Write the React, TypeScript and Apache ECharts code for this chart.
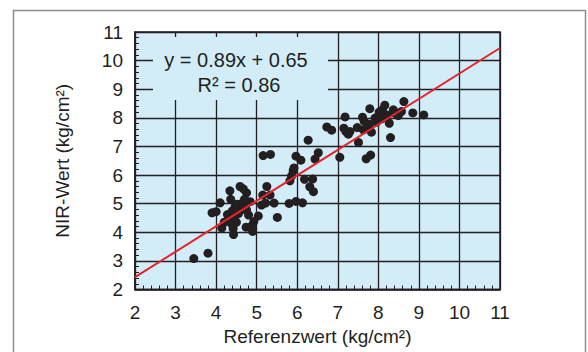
import React, { useEffect, useRef } from "react";
import * as echarts from "echarts";

const xTicks = [2, 11];
const yTicks = [2, 11];
const fitSlope = 0.89;
const fitIntercept = 0.65;
const rSquared = 0.86;

const refX = [
  3.45, 3.8, 3.9, 4.0, 4.1, 4.14, 4.2, 4.28, 4.32, 4.34, 4.36, 4.38, 4.4, 4.42, 4.43, 4.45, 4.47, 4.48, 4.5, 4.52,
  4.55, 4.59, 4.62, 4.65, 4.67, 4.7, 4.72, 4.75, 4.75, 4.74, 4.8, 4.84, 4.88, 4.9, 4.93, 5.04, 5.15, 5.12, 5.16, 5.34,
  5.25, 5.22, 5.33, 5.43, 5.51,
  5.8, 5.82, 5.86, 5.9, 5.92, 5.97, 6.09, 5.97, 6.13, 6.18, 6.38, 6.31, 6.4, 6.44, 6.52, 6.27,
  6.73, 6.85, 7.05, 7.18, 7.15, 7.2, 7.26, 7.3, 7.48, 7.51, 7.61, 7.65, 7.7, 7.81, 7.79, 7.63, 7.73, 7.83, 7.78, 7.92,
  7.96, 8.02, 8.1, 8.16, 8.08, 8.21, 8.27, 8.3, 8.37, 8.41, 8.49, 8.57, 8.63, 8.85, 9.12,
];
const nirY = [
  3.08, 3.27, 4.68, 4.72, 5.03, 4.15, 4.35, 4.62, 4.45, 5.45, 5.15, 4.3, 4.75, 4.12, 3.92, 4.55, 4.9, 4.72, 4.35, 4.98,
  4.65, 5.6, 5.0, 4.8, 5.52, 5.15, 4.95, 5.38, 4.78, 4.18, 4.6, 5.07, 4.22, 4.03, 4.38, 4.57, 5.3, 4.95, 6.68, 6.72,
  5.6, 5.02, 5.3, 5.02, 4.52,
  5.01, 5.8, 5.97, 6.15, 6.25, 6.66, 6.52, 5.08, 5.03, 5.85, 5.86, 5.59, 5.42, 6.56, 6.78, 7.22,
  7.68, 7.57, 6.62, 8.03, 7.64, 7.52, 7.43, 7.52, 7.66, 7.14, 8.02, 7.88, 6.57, 6.7, 8.32, 7.58, 7.64, 7.5, 7.78, 7.99,
  7.85, 8.2, 8.28, 8.44, 7.96, 8.1, 7.81, 7.31, 8.28, 8.16, 8.08, 8.22, 8.57, 8.17, 8.1,
];

const FONT = "'Liberation Sans', Arial, sans-serif";
const INK = "#231f20";
const BG = "#d2ecf8";

export default function App() {
  const ref = useRef<HTMLDivElement>(null);
  useEffect(() => {
    if (!ref.current) return;
    const chart = echarts.init(ref.current, undefined, { renderer: "svg" });
    const points = refX.map((x, i) => [x, nirY[i]]);
    const fit = [xTicks[0], xTicks[1]].map((x) => [x, fitSlope * x + fitIntercept]);
    const axisCommon = {
      type: "value" as const,
      interval: 1,
      axisLine: { show: true, lineStyle: { color: INK, width: 1.5 } },
      axisTick: { show: true, inside: true, length: 4, lineStyle: { color: INK } },
      minorTick: { show: true, splitNumber: 5, length: 4, lineStyle: { color: INK, width: 1 } },
      splitLine: { show: true, lineStyle: { color: INK, width: 1.3 } },
      axisLabel: { color: INK, fontSize: 19, fontFamily: FONT },
      nameLocation: "middle" as const,
      nameTextStyle: { color: INK, fontSize: 19, fontFamily: FONT },
    };
    chart.setOption({
      animation: false,
      backgroundColor: "#ffffff",
      grid: {
        left: 135,
        top: 32,
        width: 365,
        height: 257.5,
        show: true,
        backgroundColor: BG,
        borderColor: INK,
        borderWidth: 1.5,
      },
      xAxis: {
        ...axisCommon,
        min: xTicks[0],
        max: xTicks[1],
        axisLabel: { ...axisCommon.axisLabel, margin: 13 },
        name: "Referenzwert (kg/cm²)",
        nameGap: 37,
      },
      yAxis: {
        ...axisCommon,
        min: yTicks[0],
        max: yTicks[1],
        axisLabel: { ...axisCommon.axisLabel, margin: 12 },
        name: "NIR-Wert (kg/cm²)",
        nameGap: 63,
      },
      graphic: [
        {
          type: "rect",
          shape: { x: 13.5, y: 10.5, width: 572, height: 360 },
          style: { fill: "none", stroke: "#8c8c8c", lineWidth: 1.5 },
          z: 0,
          silent: true,
        },
        {
          type: "rect",
          shape: { x: 153, y: 37, width: 175, height: 63 },
          style: { fill: BG },
          z: 10,
          silent: true,
        },
        {
          type: "text",
          x: 236,
          y: 60,
          style: {
            text: `y = ${fitSlope.toFixed(2)}x + ${fitIntercept.toFixed(2)}`,
            fill: INK,
            fontSize: 20,
            fontFamily: FONT,
            align: "center",
            verticalAlign: "middle",
          },
          z: 11,
        },
        {
          type: "text",
          x: 239,
          y: 85,
          style: {
            text: `R² = ${rSquared.toFixed(2)}`,
            fill: INK,
            fontSize: 20,
            fontFamily: FONT,
            align: "center",
            verticalAlign: "middle",
          },
          z: 11,
        },
      ],
      series: [
        {
          type: "scatter",
          data: points,
          symbol: "circle",
          symbolSize: 9,
          itemStyle: { color: INK, opacity: 1 },
          z: 3,
        },
        {
          type: "line",
          data: fit,
          symbol: "none",
          lineStyle: { color: "#e5242b", width: 2 },
          z: 4,
        },
      ],
    });
    return () => chart.dispose();
  }, []);
  return (
    <div
      ref={ref}
      style={{ position: "fixed", left: 0, top: 0, width: 588, height: 352, background: "#fff" }}
    />
  );
}
